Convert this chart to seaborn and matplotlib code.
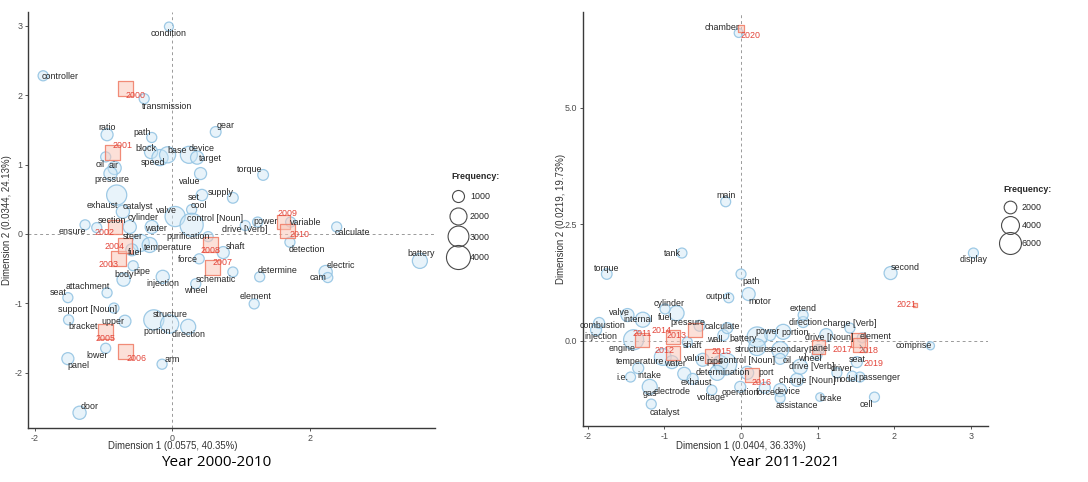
import matplotlib
matplotlib.use("Agg")
import matplotlib.pyplot as plt
import numpy as np
import pandas as pd
import seaborn as sns
from matplotlib.lines import Line2D

# ---------------- Year 2000-2010 ----------------
words_a = ["condition", "controller", "transmission", "ratio", "path", "gear", "oil", "air", "pressure", "block",
           "speed", "base", "device", "target", "torque", "value", "set", "supply", "exhaust", "catalyst",
           "valve", "cool", "control [Noun]", "drive [Verb]", "power", "variable", "calculate", "detection", "battery", "electric",
           "cam", "determine", "element", "ensure", "section", "cylinder", "water", "steer", "temperature", "fuel",
           "body", "pipe", "purification", "shaft", "force", "schematic", "injection", "wheel", "attachment", "seat",
           "support [Noun]", "bracket", "upper", "structure", "portion", "direction", "lower", "panel", "arm", "door"]
dim1_a = [-0.05, -1.88, -0.41, -0.95, -0.30, 0.63, -0.97, -0.84, -0.90, -0.31,
          -0.18, -0.07, 0.24, 0.36, 1.32, 0.41, 0.43, 0.88, -0.81, -0.72,
          0.04, 0.28, 0.28, 1.06, 1.24, 1.72, 2.39, 1.71, 3.60, 2.23,
          2.26, 1.27, 1.19, -1.27, -1.10, -0.62, -0.30, -0.46, -0.33, -0.59,
          -0.71, -0.57, 0.52, 0.74, 0.39, 0.88, -0.14, 0.34, -0.95, -1.52,
          -0.85, -1.51, -0.69, -0.27, -0.04, 0.23, -0.97, -1.52, -0.15, -1.35]
dim2_a = [2.99, 2.28, 1.95, 1.43, 1.39, 1.47, 1.11, 0.95, 0.87, 1.18,
          1.10, 1.14, 1.14, 1.10, 0.85, 0.87, 0.56, 0.52, 0.56, 0.32,
          0.25, 0.35, 0.13, 0.12, 0.17, 0.17, 0.10, -0.12, -0.39, -0.55,
          -0.63, -0.62, -1.01, 0.13, 0.09, 0.10, 0.10, -0.13, -0.16, -0.23,
          -0.66, -0.46, -0.04, -0.27, -0.36, -0.55, -0.62, -0.72, -0.85, -0.92,
          -1.07, -1.24, -1.26, -1.24, -1.30, -1.34, -1.65, -1.80, -1.88, -2.58]
freq_a = [560, 700, 700, 1000, 700, 800, 700, 1200, 1200, 1200,
          1800, 1800, 2000, 1200, 800, 1000, 900, 800, 2800, 1200,
          2800, 700, 3700, 700, 700, 700, 700, 700, 1560, 1200,
          700, 700, 700, 700, 700, 1200, 1200, 2000, 1560, 1000,
          1200, 700, 700, 1000, 700, 700, 1200, 700, 700, 700,
          700, 700, 1000, 2800, 2300, 1560, 700, 1000, 700, 1200]
years_a = ["2000", "2001", "2002", "2003", "2004", "2005", "2006", "2007", "2008", "2009", "2010"]
ydim1_a = [-0.68, -0.87, -0.84, -0.78, -0.69, -0.97, -0.68, 0.59, 0.55, 1.62, 1.67]
ydim2_a = [2.09, 1.17, 0.10, -0.36, -0.17, -1.41, -1.70, -0.49, -0.16, 0.17, 0.04]
yweight_a = [100, 95, 85, 105, 95, 95, 95, 100, 110, 80, 95]
legend_a = [1000, 2000, 3000, 4000]

# ---------------- Year 2011-2021 ----------------
words_b = ["chamber", "main", "tank", "torque", "path", "output", "motor", "display", "second", "comprise",
           "cell", "brake", "passenger", "model", "driver", "seat", "element", "panel", "drive [Noun]", "charge [Verb]",
           "direction", "extend", "portion", "power", "battery", "wall.", "calculate", "pressure", "fuel", "cylinder",
           "valve", "internal", "combustion", "injection", "engine", "shaft", "temperature", "water", "value", "pipe",
           "control [Noun]", "structure", "secondary", "determination", "electrode", "exhaust", "port", "oil", "wheel", "drive [Verb]",
           "charge [Noun]", "device", "force", "operation", "voltage", "assistance", "gas", "catalyst", "i.e.", "intake"]
dim1_b = [-0.03, -0.20, -0.77, -1.75, 0.00, -0.16, 0.10, 3.03, 1.95, 2.47,
          1.74, 1.03, 1.55, 1.45, 1.25, 1.51, 1.58, 1.01, 1.11, 1.42,
          0.81, 0.81, 0.55, 0.38, 0.21, -0.23, -0.18, -0.54, -0.84, -0.99,
          -1.48, -1.28, -1.85, -1.89, -1.40, -0.70, -1.02, -0.90, -0.50, -0.27,
          -0.20, 0.21, 0.51, -0.31, -0.74, -0.63, 0.08, 0.51, 0.99, 0.77,
          0.73, 0.51, 0.31, -0.01, -0.38, 0.51, -1.19, -1.17, -1.44, -1.34]
dim2_b = [6.60, 2.98, 1.88, 1.43, 1.43, 0.92, 1.00, 1.88, 1.45, -0.11,
          -1.21, -1.21, -0.78, -0.76, -0.69, -0.46, 0.06, -0.20, 0.12, 0.27,
          0.40, 0.55, 0.19, 0.12, 0.08, 0.12, 0.27, 0.32, 0.59, 0.68,
          0.55, 0.45, 0.38, 0.23, 0.02, -0.03, -0.35, -0.46, -0.41, -0.48,
          -0.50, -0.14, -0.20, -0.69, -0.71, -0.82, -0.69, -0.39, -0.31, -0.56,
          -0.84, -1.06, -1.01, -0.99, -1.06, -1.23, -0.99, -1.36, -0.78, -0.59]
freq_b = [1000, 1240, 1240, 1400, 1240, 1240, 2100, 1240, 2100, 800,
          1240, 900, 1240, 1240, 1240, 1500, 1240, 1500, 2100, 1240,
          1500, 1240, 2800, 1500, 5000, 1500, 1500, 1500, 2800, 1240,
          2100, 2800, 1500, 1500, 5000, 1240, 3500, 2100, 2100, 2800,
          7700, 3500, 3500, 2800, 2100, 1500, 2100, 1500, 1240, 2800,
          2100, 2100, 1500, 1500, 1240, 1240, 2800, 1240, 1240, 1500]
years_b = ["2011", "2012", "2013", "2014", "2015", "2016", "2017", "2018", "2019", "2020", "2021"]
ydim1_b = [-1.29, -0.89, -0.60, -0.89, -0.38, 0.14, 1.01, 1.53, 1.55, 0.00, 2.27]
ydim2_b = [0.02, -0.26, 0.23, 0.08, -0.33, -0.74, -0.13, 0.01, -0.09, 6.69, 0.77]
yweight_b = [100, 100, 100, 100, 100, 100, 100, 100, 100, 25, 8]
legend_b = [2000, 4000, 6000]

# label nudges in pixels (layout only, like ggrepel placement)
nudge_a = {"condition": (0, -7), "controller": (17, -1), "transmission": (23, -8), "ratio": (0, 7), "path": (-10, 5),
           "gear": (10, 6), "oil": (-6, -8), "air": (-1, 2), "pressure": (1, -6), "block": (-5, 4), "speed": (-7, -5),
           "base": (10, 4), "device": (13, 6), "target": (13, -1), "torque": (-13, 5), "value": (-11, -8), "set": (-8, -2),
           "supply": (-12, 5), "exhaust": (-14, -10), "catalyst": (15, 5), "valve": (-9, 6), "cool": (7, 4),
           "control [Noun]": (23, 6), "drive [Verb]": (-1, -4), "power": (8, 1), "variable": (15, 0), "calculate": (16, -6),
           "detection": (17, -7), "battery": (1, 7), "electric": (15, 6), "cam": (-10, 0), "determine": (18, 6),
           "element": (1, 7), "ensure": (-13, -7), "section": (15, 7), "cylinder": (13, 9), "water": (4, -2), "steer": (-8, 6),
           "temperature": (18, -3), "fuel": (3, -3), "body": (1, 5), "pipe": (9, -6), "purification": (-20, 0),
           "shaft": (12, 6), "force": (-11, -1), "schematic": (-17, -7), "injection": (0, -7), "wheel": (0, -7),
           "attachment": (-19, 6), "seat": (-10, 5), "support [Noun]": (-26, -1), "bracket": (15, -7), "upper": (-12, 0),
           "structure": (16, 5), "portion": (-12, -8), "direction": (0, -8), "lower": (-9, -7), "panel": (11, -7),
           "arm": (10, 5), "door": (10, 6)}
ynudge_a = [(10, -7), (10, 7), (-10, -6), (-10, -6), (-10, -1), (0, -7), (11, -7), (10, 5), (0, -6), (4, 9), (12, -3)]
nudge_b = {"chamber": (-17, 5), "main": (0, 6), "tank": (-10, 0), "torque": (0, 6), "path": (10, -7), "output": (-11, 1),
           "motor": (11, -7), "display": (0, -6), "second": (15, 6), "comprise": (-17, 0), "cell": (-8, -7), "brake": (11, -1),
           "passenger": (20, 0), "model": (-7, -3), "driver": (5, 4), "seat": (0, 3), "element": (13, 1), "panel": (1, 2),
           "drive [Noun]": (3, -2), "charge [Verb]": (0, 5), "direction": (2, 0), "extend": (0, 7), "portion": (12, -1),
           "power": (-3, 4), "battery": (-14, -2), "wall.": (-7, -4), "calculate": (-5, 2), "pressure": (-12, 3),
           "fuel": (-11, -4), "cylinder": (4, 5), "valve": (-8, 3), "internal": (-5, 0), "combustion": (3, -3),
           "injection": (5, -7), "engine": (-12, -9), "shaft": (5, -3), "temperature": (-23, -4), "water": (3, -1),
           "value": (-8, 1), "pipe": (-5, 2), "control [Noun]": (21, 3), "structure": (-5, -2), "secondary": (8, 1),
           "determination": (6, 0), "electrode": (-12, -18), "exhaust": (4, -4), "port": (19, 0), "oil": (7, -2),
           "wheel": (-7, -3), "drive [Verb]": (12, 0), "charge [Noun]": (10, -1), "device": (7, -1), "force": (1, -5),
           "operation": (0, -6), "voltage": (0, -7), "assistance": (17, -7), "gas": (0, -7), "catalyst": (14, -8),
           "i.e.": (-8, 0), "intake": (11, -7)}
ynudge_b = [(0, 6), (-8, 2), (-18, -6), (-11, 6), (10, 5), (10, -7), (24, -3), (10, -10), (14, -19), (10, -7), (-9, 0)]

sns.set_theme(style="white")
plt.rcParams["font.family"] = ["Liberation Sans", "DejaVu Sans"]
plt.rcParams["axes.unicode_minus"] = False

WORD_FILL = (0.80, 0.90, 0.96, 0.45)
WORD_EDGE = (0.58, 0.77, 0.89, 0.9)
YEAR_FILL = (0.98, 0.78, 0.72, 0.55)
YEAR_EDGE = (0.94, 0.50, 0.42, 0.9)
YEAR_TEXT = "#e3453a"
FS = 6.4


def draw_panel(ax, words, d1, d2, freq, years, yd1, yd2, yw, nudge, ynudge,
               fmax, smax, ysmax, leg_vals, leg_pos, leg_space, xlim, ylim, xticks, yticks,
               xlab, ylab, xlab_xy, ylab_x):
    ax.axhline(0, color="#9a9a9a", lw=0.7, ls=(0, (3, 3)), zorder=0)
    ax.axvline(0, color="#9a9a9a", lw=0.7, ls=(0, (3, 3)), zorder=0)

    wdf = pd.DataFrame({"word": words, "d1": d1, "d2": d2, "freq": freq})
    sns.scatterplot(data=wdf, x="d1", y="d2", size="freq", sizes=(0, smax), size_norm=(0, fmax),
                    legend=False, ax=ax, zorder=2, linewidth=0.9)
    coll = ax.collections[-1]
    coll.set_facecolor(WORD_FILL)
    coll.set_edgecolor(WORD_EDGE)

    ydf = pd.DataFrame({"year": years, "d1": yd1, "d2": yd2, "w": yw})
    sns.scatterplot(data=ydf, x="d1", y="d2", size="w", sizes=(0, ysmax), size_norm=(0, 100),
                    marker="s", legend=False, ax=ax, zorder=3, linewidth=0.9)
    coll = ax.collections[-1]
    coll.set_facecolor(YEAR_FILL)
    coll.set_edgecolor(YEAR_EDGE)

    for w, x, y in zip(words, d1, d2):
        dx, dy = nudge[w]
        ax.annotate(w, (x, y), xytext=(dx, dy), textcoords="offset pixels", ha="center", va="center",
                    fontsize=FS, color="#262626", zorder=4)
    for yr, x, y, (dx, dy) in zip(years, yd1, yd2, ynudge):
        far = abs(dy) > 15
        ax.annotate(yr, (x, y), xytext=(dx, dy), textcoords="offset pixels", ha="center", va="center",
                    fontsize=FS, color=YEAR_TEXT, zorder=4,
                    arrowprops=dict(arrowstyle="-", color="#8c8c8c", lw=0.6, shrinkA=3, shrinkB=0) if far else None)

    ax.set_xlim(*xlim)
    ax.set_ylim(*ylim)
    ax.set_xticks(xticks)
    ax.set_yticks(yticks)
    sns.despine(ax=ax)
    for s in ["left", "bottom"]:
        ax.spines[s].set_color("#3a3a3a")
        ax.spines[s].set_linewidth(1.0)
    ax.tick_params(axis="both", length=2.5, width=0.6, color="#3a3a3a", labelsize=FS, labelcolor="#4d4d4d", pad=1.5,
                   left=True, bottom=True)
    ax.set_xlabel(xlab, fontsize=6.9, color="#333333")
    ax.set_ylabel(ylab, fontsize=6.9, color="#333333")
    ax.xaxis.set_label_coords(*xlab_xy)
    ax.yaxis.set_label_coords(ylab_x, 0.5)

    handles = [Line2D([], [], marker="o", ls="", markersize=np.sqrt(v / fmax * smax),
                      mfc="none", mec="#4a4a4a", mew=0.8) for v in leg_vals]
    leg = ax.legend(handles, [str(v) for v in leg_vals], title="Frequency:", loc="upper left",
                    bbox_to_anchor=leg_pos, bbox_transform=ax.figure.transFigure, frameon=False,
                    fontsize=FS, title_fontproperties={"size": FS, "weight": "bold"},
                    labelspacing=leg_space, handletextpad=0.5, borderpad=0.2, handlelength=1.6)
    leg._legend_box.align = "left"


fig = plt.figure(figsize=(10.88, 4.82), dpi=100)
ax1 = fig.add_axes([28 / 1088, 54 / 482, 407 / 1088, 416 / 482])
ax2 = fig.add_axes([583 / 1088, 56 / 482, 405 / 1088, 414 / 482])

draw_panel(ax1, words_a, dim1_a, dim2_a, freq_a, years_a, ydim1_a, ydim2_a, yweight_a, nudge_a, ynudge_a,
           4000, 300, 117, legend_a, (445 / 1088, 1 - 166 / 482), 1.25, (-2.10, 3.82), (-2.80, 3.20),
           [-2, 0, 2], [-2, -1, 0, 1, 2, 3],
           "Dimension 1 (0.0575, 40.35%)", "Dimension 2 (0.0344, 24.13%)", (0.356, -0.031), -0.040)
draw_panel(ax2, words_b, dim1_b, dim2_b, freq_b, years_b, ydim1_b, ydim2_b, yweight_b, nudge_b, ynudge_b,
           6000, 250, 100, legend_b, (997 / 1088, 1 - 179 / 482), 1.0, (-2.06, 3.22), (-1.83, 7.05),
           [-2, -1, 0, 1, 2, 3], [0.0, 2.5, 5.0],
           "Dimension 1 (0.0404, 36.33%)", "Dimension 2 (0.0219, 19.73%)", (0.39, -0.036), -0.043)
ax2.set_yticklabels(["0.0", "2.5", "5.0"])

fig.text(216 / 1088, 20 / 482, "Year 2000-2010", ha="center", va="center", fontsize=11, family="Open Sans", color="black")
fig.text(784 / 1088, 20 / 482, "Year 2011-2021", ha="center", va="center", fontsize=11, family="Open Sans", color="black")

fig.savefig("out.png", dpi=100, facecolor="white")
